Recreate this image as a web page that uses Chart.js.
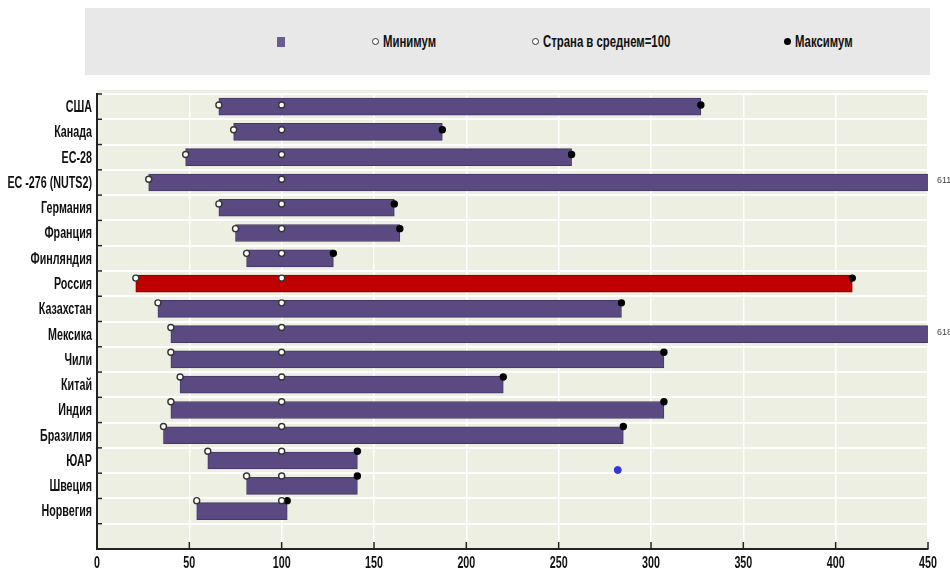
<!DOCTYPE html>
<html>
<head>
<meta charset="utf-8">
<script src="https://cdn.jsdelivr.net/npm/chart.js@4.4.1/dist/chart.umd.min.js"></script>
<style>
body{margin:0;background:#fff;}
#wrap{position:relative;width:950px;height:582px;}
#legend{position:absolute;left:85px;top:8px;width:845px;height:67px;background:#e8e8e8;
  font:bold 16px 'Liberation Sans',Arial,sans-serif;color:#111;}
.item{position:absolute;top:25px;display:flex;align-items:center;white-space:nowrap;height:17px;}
.sw{display:inline-block;margin-right:4px;box-sizing:border-box;flex:none;}
.txt{display:inline-block;transform:scaleX(0.71);transform-origin:left center;}
</style>
</head>
<body>
<div id="wrap">
  <canvas id="chart" width="950" height="582"></canvas>
  <div id="legend"></div>
</div>
<script>
// data
const countries = ['США', 'Канада', 'ЕС-28', 'ЕС -276 (NUTS2)', 'Германия', 'Франция', 'Финляндия', 'Россия',
  'Казахстан', 'Мексика', 'Чили', 'Китай', 'Индия', 'Бразилия', 'ЮАР', 'Швеция', 'Норвегия'];
const minValues = [66, 74, 48, 28, 66, 75, 81, 21, 33, 40, 40, 45, 40, 36, 60, 81, 54];
const avgValues = [100, 100, 100, 100, 100, 100, 100, 100, 100, 100, 100, 100, 100, 100, 100, 100, 100];
const maxValues = [327, 187, 257, 611, 161, 164, 128, 409, 284, 618, 307, 220, 307, 285, 141, 141, 103];
const strayPoint = [{x: 282, y: 14.76}];
const highlight = 'Россия';
const legendNames = ['', 'Минимум', 'Страна в среднем=100', 'Максимум'];

const FONT = "'Liberation Sans',Arial,sans-serif";
const SQUEEZE = 0.67;   //the original uses a narrow font
const PURPLE = '#5b4a82';
const RED = '#c00000';
const PLOT_BG = '#ecefe2';

//legend in html (grey box above the plot)
function build_legend(){
    const lefts = [192, 287, 447, 699];
    const swatches = [
        'width:8px;height:10px;background:#6b5d92;',
        'width:7px;height:7px;border:1.5px solid #333;border-radius:50%;background:#fff;',
        'width:7px;height:7px;border:1.5px solid #333;border-radius:50%;background:#fff;',
        'width:7px;height:7px;border-radius:50%;background:#000;'
    ];
    let legend = document.getElementById('legend');
    legendNames.forEach((name, i)=>{
        let item = document.createElement('div');
        item.className = 'item';
        item.style.left = lefts[i] + 'px';
        let sw = document.createElement('span');
        sw.className = 'sw';
        sw.style.cssText += swatches[i];
        item.appendChild(sw);
        if (name){
            let txt = document.createElement('span');
            txt.className = 'txt';
            txt.textContent = name;
            item.appendChild(txt);
        }
        legend.appendChild(item);
    });
}

const plotBackground = {
    id: 'plotBackground',
    beforeDraw(chart){
        const {ctx, chartArea} = chart;
        ctx.save();
        ctx.fillStyle = PLOT_BG;
        ctx.fillRect(chartArea.left, chartArea.top - 4, chartArea.right - chartArea.left, chartArea.bottom - chartArea.top + 4);
        ctx.restore();
    }
};

function squeezed_text(ctx, text, x, y, align){
    ctx.save();
    ctx.translate(x, y);
    ctx.scale(SQUEEZE, 1);
    ctx.textAlign = align;
    ctx.fillText(text, 0, 0);
    ctx.restore();
}

//short ticks pointing into the plot, narrow tick labels, labels for values past the axis
const axisDecor = {
    id: 'axisDecor',
    beforeDatasetsDraw(chart){
        const {ctx, chartArea, scales} = chart;
        ctx.save();
        ctx.strokeStyle = '#222';
        ctx.lineWidth = 1.5;
        scales.x.ticks.forEach(t=>{
            let px = scales.x.getPixelForValue(t.value);
            ctx.beginPath();
            ctx.moveTo(px, chartArea.bottom);
            ctx.lineTo(px, chartArea.bottom - 7);
            ctx.stroke();
        });
        let rowH = scales.y.getPixelForValue(1) - scales.y.getPixelForValue(0);
        for (let i = 0; i <= countries.length; i++){
            let py = scales.y.getPixelForValue(i) - rowH / 2;
            ctx.beginPath();
            ctx.moveTo(chartArea.left, py);
            ctx.lineTo(chartArea.left + 5, py);
            ctx.stroke();
        }
        ctx.restore();
    },
    afterDatasetsDraw(chart){
        const {ctx, chartArea, scales} = chart;
        ctx.save();
        ctx.fillStyle = '#111';
        ctx.font = 'bold 16px ' + FONT;
        ctx.textBaseline = 'middle';
        countries.forEach((c, i)=>{
            squeezed_text(ctx, c, chartArea.left - 5, scales.y.getPixelForValue(i) + 1, 'right');
        });
        scales.x.ticks.forEach(t=>{
            squeezed_text(ctx, String(t.value), scales.x.getPixelForValue(t.value), chartArea.bottom + 15, 'center');
        });
        ctx.fillStyle = '#444';
        ctx.font = '9px ' + FONT;
        maxValues.forEach((v, i)=>{
            if (v > scales.x.max){
                ctx.fillText(String(v), chartArea.right + 9, scales.y.getPixelForValue(i) - 2);
            }
        });
        ctx.restore();
    }
};

function marker_set(values, fill, stroke){
    return {
        type: 'scatter',
        data: values.map((v, i)=>({x: v, y: i})),
        xAxisID: 'x',
        yAxisID: 'y2',
        pointRadius: 3,
        pointBackgroundColor: fill,
        pointBorderColor: stroke,
        pointBorderWidth: 1.4,
        order: 1
    };
}

function draw_chart(){
    const datasets = [
        {
            type: 'bar',
            indexAxis: 'y',
            data: countries.map((c, i)=>[minValues[i], maxValues[i]]),
            backgroundColor: countries.map(c=> c == highlight ? RED : PURPLE),
            borderColor: countries.map(c=> c == highlight ? '#8a0000' : '#463766'),
            borderWidth: 1,
            borderSkipped: false,
            barThickness: 17,
            xAxisID: 'x',
            yAxisID: 'y',
            order: 2
        },
        marker_set(minValues, '#fff', '#333'),
        marker_set(avgValues, '#fff', '#333'),
        marker_set(maxValues, '#000', '#000'),
        {
            type: 'scatter',
            data: strayPoint,
            xAxisID: 'x',
            yAxisID: 'y2',
            pointRadius: 3.5,
            pointBackgroundColor: '#3535d8',
            pointBorderColor: '#3535d8',
            order: 0
        }
    ];

    new Chart(document.getElementById('chart'), {
        type: 'bar',
        data: {labels: countries.concat(['']), datasets: datasets},
        options: {
            responsive: false,
            animation: false,
            layout: {padding: {top: 94, right: 22, bottom: 0, left: 0}},
            plugins: {legend: {display: false}, tooltip: {enabled: false}},
            scales: {
                x: {
                    type: 'linear',
                    position: 'bottom',
                    offset: false,
                    min: 0,
                    max: 450,
                    ticks: {stepSize: 50, display: false},
                    grid: {offset: false, color: '#ffffff', lineWidth: 1.5, drawTicks: false},
                    border: {color: '#222', width: 2},
                    afterFit(scale){ scale.height = 33; }
                },
                y: {
                    type: 'category',
                    position: 'left',
                    offset: true,
                    ticks: {display: false, autoSkip: false},
                    grid: {offset: true, color: '#ffffff', lineWidth: 2, drawTicks: false},
                    border: {color: '#222', width: 2},
                    afterFit(scale){ scale.width = 97; }
                },
                y2: {
                    type: 'linear',
                    axis: 'y',
                    display: false,
                    reverse: true,
                    min: -0.445,
                    max: 17.955
                }
            }
        },
        plugins: [plotBackground, axisDecor]
    });
}

build_legend();
draw_chart();
</script>
</body>
</html>
